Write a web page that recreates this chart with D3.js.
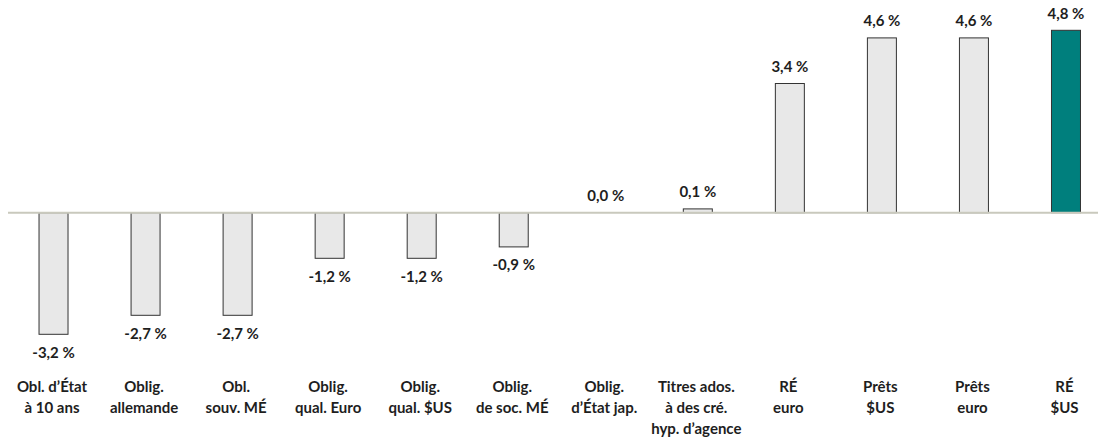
<!DOCTYPE html>
<html>
<head>
<meta charset="utf-8">
<script src="https://cdn.jsdelivr.net/npm/d3@7"></script>
<style>
  body { margin: 0; background: #fff; }
  text { font-family: Lato, "Open Sans", sans-serif; font-weight: bold; fill: #1e1e1e; }
</style>
</head>
<body>
<div id="chart"></div>
<script>
// categories (lines of each label) and values in %
const categories = [
    ["Obl. d’État", "à 10 ans"],
    ["Oblig.", "allemande"],
    ["Obl.", "souv. MÉ"],
    ["Oblig.", "qual. Euro"],
    ["Oblig.", "qual. $US"],
    ["Oblig.", "de soc. MÉ"],
    ["Oblig.", "d’État jap."],
    ["Titres ados.", "à des cré.", "hyp. d’agence"],
    ["RÉ", "euro"],
    ["Prêts", "$US"],
    ["Prêts", "euro"],
    ["RÉ", "$US"]
];
const values = [-3.2, -2.7, -2.7, -1.2, -1.2, -0.9, 0.0, 0.1, 3.4, 4.6, 4.6, 4.8];
const highlight = 11;

const width = 1098;
const height = 437;

const data = values.map((v, i) => ({ key: i, label: categories[i], value: v }));

let xScale = d3.scaleBand()
    .domain(data.map(d => d.key))
    .range([7.5, 1112])
    .paddingInner(0.685)
    .paddingOuter(0.3425);

let yScale = d3.scaleLinear()
    .domain([-4, 5])
    .range([364.7, 22.7]);

const fmt = v => d3.format(".1f")(v).replace(".", ",").replace("−", "-") + " %";

const svg = d3.select("#chart")
    .append("svg")
    .attr("width", width)
    .attr("height", height);

// bars
svg.selectAll(".bar")
    .data(data)
    .enter()
    .append("rect")
        .attr("class", "bar")
        .attr("x", d => xScale(d.key))
        .attr("y", d => yScale(Math.max(0, d.value)))
        .attr("width", xScale.bandwidth())
        .attr("height", d => Math.abs(yScale(d.value) - yScale(0)))
        .attr("fill", d => d.key === highlight ? "#007f7d" : "#e8e8e8")
        .attr("stroke", "#333")
        .attr("stroke-width", 1);

// zero line
svg.append("line")
    .attr("x1", 8)
    .attr("x2", width)
    .attr("y1", yScale(0))
    .attr("y2", yScale(0))
    .attr("stroke", "#c9c9bd")
    .attr("stroke-width", 2);

// value labels
svg.selectAll(".val")
    .data(data)
    .enter()
    .append("text")
        .attr("class", "val")
        .attr("x", d => xScale(d.key) + xScale.bandwidth() / 2)
        .attr("y", d => d.value >= 0 ? yScale(d.value) - 11.5 : yScale(d.value) + 23.5)
        .attr("text-anchor", "middle")
        .attr("font-size", "15px")
        .text(d => fmt(d.value));

// category labels
const cat = svg.selectAll(".cat")
    .data(data)
    .enter()
    .append("text")
        .attr("class", "cat")
        .attr("text-anchor", "middle")
        .attr("font-size", "15px");

cat.selectAll("tspan")
    .data(d => d.label.map(l => ({ l: l, x: xScale(d.key) + xScale.bandwidth() / 2 - 1.5 })))
    .enter()
    .append("tspan")
        .attr("x", d => d.x)
        .attr("y", (d, i) => 391.5 + i * 21)
        .text(d => d.l);
</script>
</body>
</html>
